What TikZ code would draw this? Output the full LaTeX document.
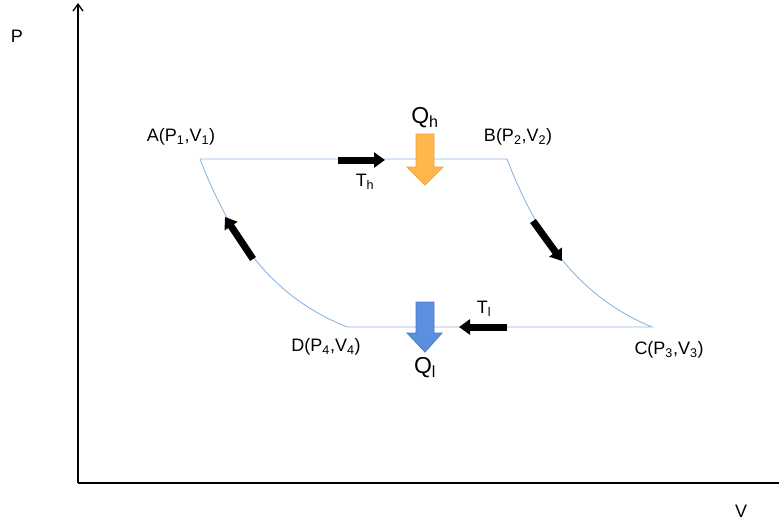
\documentclass[tikz,border=0pt]{standalone}
\usepackage{fontspec}
\setmainfont{Liberation Sans}
\usetikzlibrary{arrows.meta}
\definecolor{cyc}{HTML}{8EB4E3}
\definecolor{hot}{HTML}{FFB74D}
\definecolor{hotb}{HTML}{F0A23A}
\definecolor{cold}{HTML}{5B8FDF}
\definecolor{coldb}{HTML}{4A7CC8}
\begin{document}
\begin{tikzpicture}[x=1pt,y=-1pt,
  lbl/.style={inner sep=0pt,font=\fontsize{18}{20}\selectfont},
  qlbl/.style={inner sep=0pt,font=\fontsize{23}{26}\selectfont},
  axis/.style={line width=1.3pt},
  cycle/.style={cyc,line width=0.9pt},
  flow/.style={line width=7pt,-{Triangle[length=11pt,width=15pt]}}]
\useasboundingbox (0,0) rectangle (779,522);
% axes
\coordinate (O) at (78,483);
\coordinate (Ptop) at (78,3);
\coordinate (Vend) at (779,483);
\draw[axis,-{Straight Barb[length=7pt,width=10pt]}] (O) -- (Ptop);
\draw[axis] (O) -- (Vend);
\node[lbl] (P) at (17,36) {P};
\node[lbl] (V) at (741,511) {V};
% cycle corners
\coordinate (A) at (200,159);
\coordinate (B) at (507,159);
\coordinate (C) at (652,327);
\coordinate (D) at (347,327);
\draw[cycle] (A) -- (B) .. controls (542,250) and (587,300) .. (C) -- (D)
  .. controls (280,300) and (235,250) .. (A);
% labels
\node[lbl] (la) at (181,137) {A(P\textsubscript{1},V\textsubscript{1})};
\node[lbl] (lb) at (518,137) {B(P\textsubscript{2},V\textsubscript{2})};
\node[lbl] (lc) at (669,350) {C(P\textsubscript{3},V\textsubscript{3})};
\node[lbl] (ld) at (326,347) {D(P\textsubscript{4},V\textsubscript{4})};
\node[lbl] (th) at (365,182) {T\textsubscript{h}};
\node[lbl] (tl) at (484,309) {T\textsubscript{l}};
\node[qlbl] (qh) at (425,118) {Q\textsubscript{h}};
\node[qlbl] (ql) at (425,368) {Q\textsubscript{l}};
% flow arrows
\coordinate (f1a) at (338,160); \coordinate (f1b) at (385,160);
\draw[flow] (f1a) -- (f1b);
\coordinate (f2a) at (533,221); \coordinate (f2b) at (562,261);
\draw[flow] (f2a) -- (f2b);
\coordinate (f3a) at (507,327); \coordinate (f3b) at (459,327);
\draw[flow] (f3a) -- (f3b);
\coordinate (f4a) at (253,259); \coordinate (f4b) at (225,217);
\draw[flow] (f4a) -- (f4b);
% heat arrows
\draw[hotb,fill=hot,line width=0.8pt] (416,134) -- (434,134) -- (434,167) -- (443,167)
  -- (425,185) -- (407,167) -- (416,167) -- cycle;
\draw[coldb,fill=cold,line width=0.8pt] (416,302) -- (434,302) -- (434,333) -- (442,333)
  -- (425,352) -- (407,333) -- (416,333) -- cycle;
\end{tikzpicture}
\end{document}
